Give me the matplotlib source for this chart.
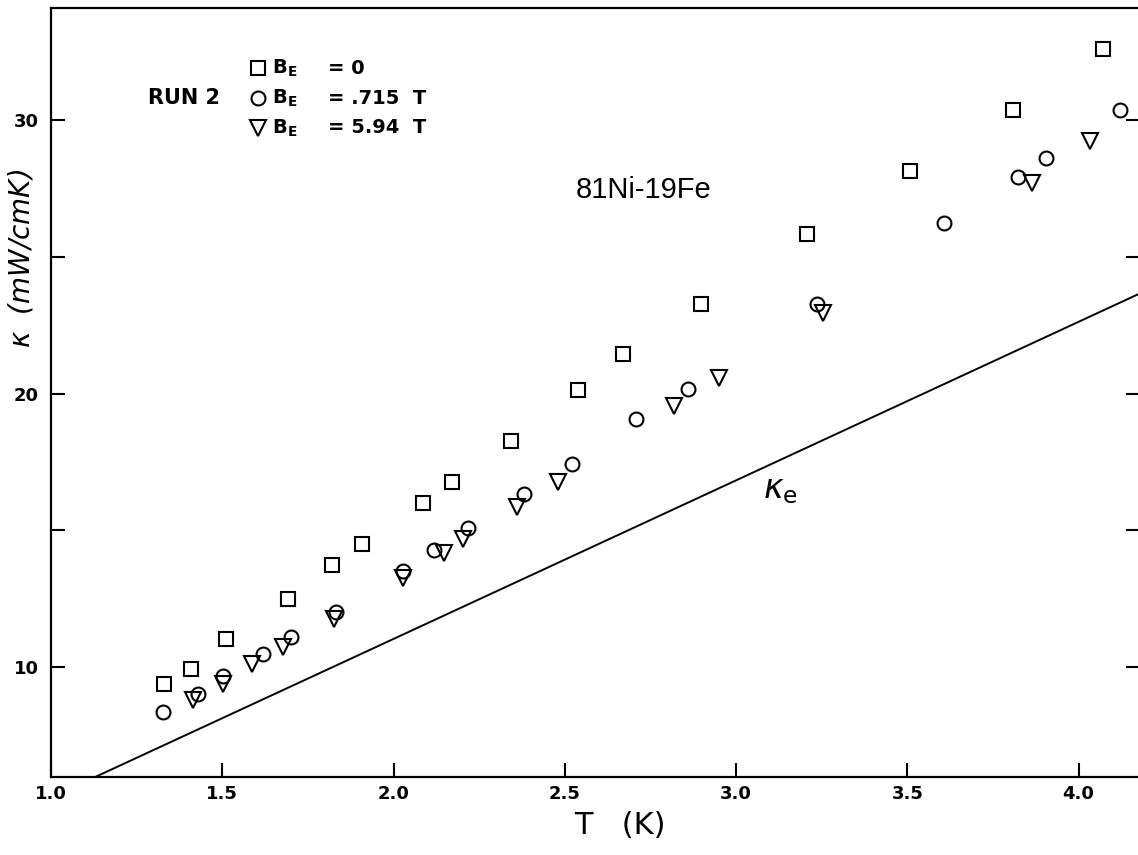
import matplotlib

matplotlib.use("Agg")
import matplotlib.pyplot as plt  # noqa: E402

# Данные: T (K) и теплопроводность (mW/cmK).
t_b0 = [1.330, 1.409, 1.512, 1.693, 1.819, 1.909, 2.085, 2.170, 2.342,
        2.538, 2.670, 2.898, 3.208, 3.509, 3.807, 4.070]
k_b0 = [9.38, 9.93, 11.02, 12.49, 13.73, 14.50, 16.00, 16.76, 18.26,
        20.13, 21.44, 23.27, 25.83, 28.14, 30.37, 32.60]

t_b715 = [1.327, 1.430, 1.503, 1.620, 1.702, 1.833, 2.029, 2.117, 2.216,
          2.380, 2.520, 2.708, 2.860, 3.237, 3.608, 3.822, 3.904, 4.120]
k_b715 = [8.35, 9.01, 9.67, 10.48, 11.10, 12.01, 13.51, 14.28, 15.08,
          16.33, 17.42, 19.07, 20.16, 23.27, 26.23, 27.92, 28.61, 30.37]

t_b594 = [1.415, 1.503, 1.588, 1.678, 1.827, 2.029, 2.146, 2.202, 2.360,
          2.480, 2.819, 2.950, 3.254, 3.865, 4.032]
k_b594 = [8.79, 9.38, 10.11, 10.73, 11.76, 13.25, 14.17, 14.68, 15.85,
          16.76, 19.54, 20.57, 22.94, 27.70, 29.23]

# Электронный вклад kappa_e — прямая.
t_ke = [1.129, 4.18]
k_ke = [5.98, 23.67]

x_ticks = [1.0, 1.5, 2.0, 2.5, 3.0, 3.5, 4.0]
x_tick_labels = ["1.0", "1.5", "2.0", "2.5", "3.0", "3.5", "4.0"]
y_ticks = [10, 15, 20, 25, 30]
y_tick_labels = ["10", "", "20", "", "30"]

legend_labels = ["= 0", "= .715  T", "= 5.94  T"]

fig = plt.figure(figsize=(11.38, 8.55), dpi=100)
ax = fig.add_axes([0.0448, 0.0912, 0.9572, 0.8994])

ax.set_xlim(1.0, 4.18)
ax.set_ylim(5.98, 34.1)

marker_style = dict(
    linestyle="none",
    markerfacecolor="none",
    markeredgecolor="black",
    markeredgewidth=1.5,
)
ax.plot(t_b0, k_b0, marker="s", markersize=9.5, **marker_style)
ax.plot(t_b715, k_b715, marker="o", markersize=10, **marker_style)
ax.plot(t_b594, k_b594, marker="v", markersize=11, **marker_style)

ax.plot(t_ke, k_ke, color="black", linewidth=1.4)
ax.text(3.13, 16.5, r"$\kappa_{\rm e}$", fontsize=24, ha="center", va="center")

# Оси и тики (внутрь, как на оригинале).
ax.set_xticks(x_ticks)
ax.set_xticklabels(x_tick_labels, fontsize=13, fontweight="bold")
ax.set_yticks(y_ticks)
ax.set_yticklabels(y_tick_labels, fontsize=13, fontweight="bold")
ax.tick_params(direction="in", length=10, width=1.5, right=True, top=False)
ax.tick_params(axis="x", pad=6)
ax.tick_params(axis="y", pad=9)
for side in ["left", "bottom", "top", "right"]:
    ax.spines[side].set_linewidth(1.6)

ax.set_xlabel("T   (K)", fontsize=22)
ax.xaxis.set_label_coords(0.522, -0.044)
ax.set_ylabel(r"$\kappa$  (mW/cmK)", fontsize=20, style="italic")
ax.yaxis.set_label_coords(-0.014, 0.675)

# Легенда, нарисованная вручную.
legend_markers = ["s", "o", "v"]
legend_sizes = [9.5, 10, 11]
legend_y = [0.922, 0.883, 0.844]
for mk, ms, yy, lab in zip(legend_markers, legend_sizes, legend_y, legend_labels):
    ax.plot([0.190], [yy], marker=mk, markersize=ms, transform=ax.transAxes,
            **marker_style)
    ax.text(0.203, yy, r"$\mathbf{B_E}$", fontsize=14, va="center",
            transform=ax.transAxes)
    ax.text(0.254, yy, lab, fontsize=14, fontweight="bold", va="center",
            transform=ax.transAxes)
ax.text(0.089, 0.883, "RUN 2", fontsize=15, fontweight="bold", va="center",
        transform=ax.transAxes)

ax.text(0.544, 0.763, "81Ni-19Fe", fontsize=21, family="Liberation Sans",
        ha="center", va="center", transform=ax.transAxes)

fig.savefig("out.png", dpi=100)
plt.close(fig)
